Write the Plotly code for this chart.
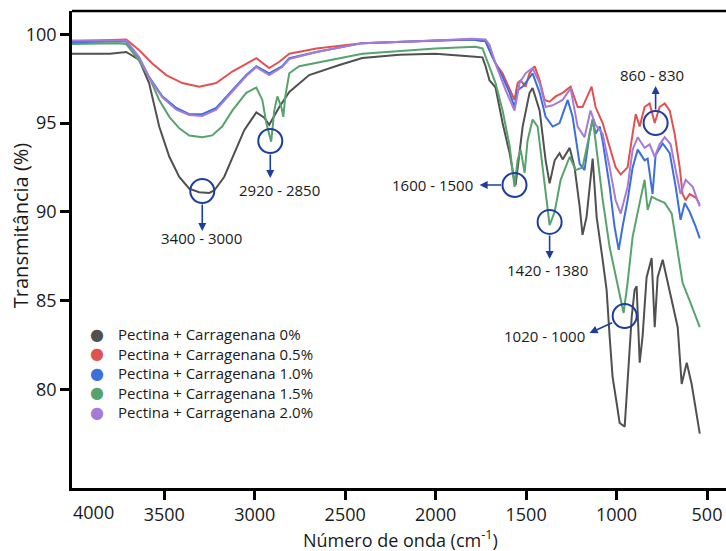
import plotly.graph_objects as go

# ---------------- data ----------------
series_names = [
    "Pectina + Carragenana 0%",
    "Pectina + Carragenana 0.5%",
    "Pectina + Carragenana 1.0%",
    "Pectina + Carragenana 1.5%",
    "Pectina + Carragenana 2.0%",
]

wn_0 = [4010, 3800, 3710, 3638, 3584, 3528, 3472, 3417, 3362, 3307, 3251, 3224, 3169, 3113,
        3058, 2991, 2947, 2920, 2864, 2809, 2699, 2532, 2405, 2200, 2001, 1800, 1741, 1724,
        1702, 1685, 1669, 1630, 1591, 1564, 1558, 1519, 1481, 1464, 1425, 1392, 1370, 1342,
        1315, 1298, 1259, 1232, 1204, 1188, 1166, 1132, 1110, 1077, 1055, 1038, 1022, 999,
        983, 955, 939, 916, 900, 889, 872, 856, 834, 806, 789, 773, 745, 717, 690, 662, 640,
        612, 585, 557, 540]
t_0 = [98.9, 98.9, 99.0, 98.55, 97.25, 94.8, 93.1, 91.96, 91.3, 91.1, 91.06, 91.2, 91.96, 93.3,
       94.6, 95.6, 95.3, 94.9, 95.9, 96.75, 97.7, 98.27, 98.66, 98.85, 98.9, 98.75, 98.7, 98.2,
       97.4, 97.2, 97.0, 95.0, 93.3, 91.7, 91.5, 94.8, 96.7, 96.97, 95.7, 92.9, 91.6, 92.9,
       93.3, 92.95, 93.6, 92.5, 90.3, 88.7, 89.7, 93.0, 89.7, 87.3, 85.6, 82.95, 80.7, 79.2,
       78.1, 77.9, 80.3, 84.1, 85.6, 85.8, 81.5, 83.0, 86.3, 87.4, 83.5, 86.3, 87.3, 86.0,
       84.85, 83.5, 80.3, 81.5, 80.3, 78.45, 77.5]

wn_05 = [4010, 3710, 3638, 3566, 3489, 3400, 3307, 3213, 3124, 2991, 2920, 2864, 2809, 2659,
         2405, 2001, 1800, 1724, 1702, 1669, 1630, 1591, 1564, 1547, 1530, 1503, 1481, 1453,
         1425, 1398, 1370, 1337, 1298, 1254, 1215, 1188, 1160, 1138, 1116, 1077, 1038, 1005,
         977, 939, 911, 894, 872, 845, 817, 789, 762, 734, 706, 679, 651, 635, 618, 596, 562, 540]
t_05 = [99.6, 99.7, 99.1, 98.35, 97.7, 97.25, 97.05, 97.25, 97.9, 98.65, 98.1, 98.45, 98.9, 99.2,
        99.5, 99.65, 99.7, 99.6, 99.1, 98.35, 97.8, 96.85, 96.3, 97.25, 97.4, 97.05, 97.8, 98.2,
        97.4, 96.3, 96.2, 96.5, 96.7, 97.05, 95.9, 95.9, 96.5, 97.05, 95.9, 95.0, 93.65, 92.5,
        92.1, 92.5, 94.4, 95.5, 94.8, 95.9, 96.1, 95.0, 95.9, 96.1, 95.7, 94.4, 92.5, 91.0,
        90.65, 91.0, 90.8, 90.4]

wn_10 = [4010, 3710, 3638, 3584, 3511, 3433, 3362, 3290, 3213, 3124, 3047, 2991, 2920, 2848,
         2809, 2659, 2405, 2001, 1800, 1724, 1685, 1630, 1591, 1564, 1547, 1519, 1492, 1464,
         1425, 1392, 1353, 1315, 1270, 1243, 1204, 1177, 1149, 1132, 1116, 1093, 1077, 1038,
         1011, 988, 966, 939, 911, 883, 845, 828, 801, 784, 745, 706, 673, 646, 623, 596, 562, 540]
t_10 = [99.55, 99.6, 98.65, 97.6, 96.5, 95.85, 95.5, 95.5, 95.85, 96.85, 97.7, 98.2, 97.8, 98.2,
        98.65, 99.0, 99.5, 99.65, 99.7, 99.6, 98.7, 97.6, 96.7, 95.9, 96.85, 97.05, 97.4, 97.8,
        96.7, 95.35, 94.8, 95.0, 96.3, 95.35, 92.7, 92.35, 94.4, 95.2, 94.4, 94.8, 94.0, 91.4,
        89.15, 87.85, 89.2, 90.65, 92.5, 93.5, 92.9, 93.0, 91.0, 93.2, 93.85, 93.3, 91.4, 89.55,
        90.5, 90.0, 89.15, 88.5]

wn_15 = [4010, 3760, 3710, 3638, 3584, 3528, 3472, 3417, 3362, 3290, 3235, 3180, 3124, 3047,
         2991, 2958, 2936, 2909, 2892, 2875, 2853, 2842, 2831, 2809, 2754, 2571, 2405, 2001,
         1780, 1741, 1702, 1669, 1630, 1591, 1564, 1547, 1530, 1508, 1492, 1464, 1436, 1409,
         1381, 1370, 1342, 1309, 1259, 1226, 1188, 1149, 1132, 1116, 1077, 1038, 999, 972, 961,
         939, 911, 872, 845, 828, 806, 778, 734, 695, 668, 635, 596, 540]
t_15 = [99.45, 99.5, 99.45, 98.5, 97.6, 96.3, 95.35, 94.7, 94.3, 94.2, 94.3, 94.8, 95.7, 96.7,
        97.0, 96.3, 95.0, 93.95, 95.7, 96.5, 95.9, 95.35, 96.5, 97.8, 98.2, 98.55, 98.9, 99.2,
        99.3, 99.2, 98.2, 97.25, 95.7, 93.7, 91.4, 92.9, 93.5, 92.2, 94.0, 95.2, 94.8, 92.5,
        89.9, 89.25, 90.0, 91.8, 93.1, 92.35, 92.5, 94.4, 95.2, 94.0, 90.7, 88.0, 86.2, 84.85,
        84.3, 86.0, 88.6, 90.5, 91.8, 90.1, 90.85, 90.7, 90.5, 89.9, 88.2, 86.0, 85.0, 83.5]

wn_20 = [4010, 3710, 3638, 3584, 3511, 3433, 3362, 3290, 3213, 3124, 3047, 2991, 2920, 2848,
         2809, 2659, 2405, 2001, 1800, 1724, 1702, 1669, 1613, 1564, 1536, 1503, 1464, 1425,
         1392, 1353, 1298, 1254, 1215, 1177, 1144, 1116, 1077, 1038, 1005, 977, 939, 911, 883,
         845, 817, 789, 762, 734, 701, 673, 646, 618, 579, 540]
t_20 = [99.65, 99.65, 98.7, 97.55, 96.45, 95.75, 95.45, 95.4, 95.75, 96.8, 97.65, 98.15, 97.7,
        98.15, 98.6, 99.0, 99.5, 99.65, 99.75, 99.7, 99.4, 98.35, 96.85, 95.7, 97.25, 97.8, 98.1,
        97.25, 95.9, 96.0, 96.3, 96.95, 94.8, 94.2, 95.7, 94.9, 94.4, 92.5, 90.65, 89.9, 91.4,
        93.5, 94.2, 93.6, 93.8, 93.1, 93.8, 94.2, 93.8, 92.35, 91.0, 91.8, 91.4, 90.3]

wavenumbers = [wn_0, wn_05, wn_10, wn_15, wn_20]
transmittance = [t_0, t_05, t_10, t_15, t_20]

x_tick_vals = [3500, 3000, 2500, 2000, 1500, 1000, 500]
y_tick_vals = [80, 85, 90, 95, 100]
first_x_label = "4000"

# band annotations: label text, circled point (wavenumber, T), arrow tip, label position
band_labels = ["3400 - 3000", "2920 - 2850", "1600 - 1500", "1420 - 1380", "1020 - 1000", "860 - 830"]
circle_wn = [3290, 2914, 1564, 1370, 955, 784]
circle_t = [91.17, 93.99, 91.51, 89.43, 84.13, 95.0]
arrow_wn = [3290, 2914, 1757, 1370, 1149, 784]
arrow_t = [88.92, 91.90, 91.51, 87.34, 83.17, 97.09]
arrow_dx = [0, 0, 23, 0, 24, 0]
arrow_dy = [-28, -25, 0, -25, -11, 25]
label_wn = [3296, 2864, 2017, 1381, 1398, 802]
label_t = [88.52, 91.23, 91.51, 86.72, 83.0, 97.71]

# ---------------- styles ----------------
colors = ["#505050", "#e05252", "#3b6fdd", "#58a36c", "#a67bd8"]
ann_color = "#1c3f9e"
text_color = "#1a1a1a"
font_family = "Open Sans"

fig = go.Figure()
for name, wn, tr, c in zip(series_names, wavenumbers, transmittance, colors):
    fig.add_trace(go.Scatter(x=wn, y=tr, mode="lines", name=name,
                             line=dict(color=c, width=2),
                             showlegend=False, hoverinfo="skip"))

shapes = [dict(type="line", xref="paper", yref="paper", x0=0, x1=1, y0=1, y1=1,
               line=dict(color="black", width=2.5))]
for cx, cy in zip(circle_wn, circle_t):
    shapes.append(dict(type="circle", xref="x", yref="y", xsizemode="pixel", ysizemode="pixel",
                       xanchor=cx, yanchor=cy, x0=-12, x1=12, y0=-12, y1=12,
                       line=dict(color=ann_color, width=2)))

annotations = []
for ax_, ay_, dx, dy in zip(arrow_wn, arrow_t, arrow_dx, arrow_dy):
    annotations.append(dict(x=ax_, y=ay_, xref="x", yref="y", text="", showarrow=True,
                            ax=dx, ay=dy, arrowhead=2, arrowsize=1, arrowwidth=1.6,
                            arrowcolor=ann_color))
for txt, lx, ly in zip(band_labels, label_wn, label_t):
    annotations.append(dict(x=lx, y=ly, xref="x", yref="y", text=txt, showarrow=False,
                            xanchor="center", yanchor="middle",
                            font=dict(family=font_family, size=15, color=text_color)))

# legend (drawn as text rows: coloured dot + label)
legend_x_dot = 0.038
legend_x_text = 0.067
legend_y_top = 0.3224
legend_row = 0.0409
for i, (name, c) in enumerate(zip(series_names, colors)):
    yy = legend_y_top - i * legend_row
    annotations.append(dict(x=legend_x_dot, y=yy, xref="paper", yref="paper", text="●",
                            showarrow=False, xanchor="center", yanchor="middle",
                            font=dict(family="DejaVu Sans", size=16, color=c)))
    annotations.append(dict(x=legend_x_text, y=yy, xref="paper", yref="paper", text=name,
                            showarrow=False, xanchor="left", yanchor="middle",
                            font=dict(family=font_family, size=15, color=text_color)))

annotations.append(dict(x=0.0329, y=-0.02, xref="paper", yref="paper", text=first_x_label,
                        showarrow=False, xanchor="center", yanchor="top",
                        font=dict(family=font_family, size=18, color=text_color)))
annotations.append(dict(x=0.503, y=-0.106, xref="paper", yref="paper",
                        text="Número de onda (cm<sup>-1</sup>)", showarrow=False,
                        xanchor="center", yanchor="middle",
                        font=dict(family=font_family, size=18, color=text_color)))
annotations.append(dict(x=-0.0795, y=0.551, xref="paper", yref="paper",
                        text="Transmitância (%)", showarrow=False, textangle=-90,
                        xanchor="center", yanchor="middle",
                        font=dict(family=font_family, size=20, color=text_color)))

axis_common = dict(showline=True, linecolor="black", linewidth=2.5, ticks="outside",
                   ticklen=9, tickwidth=2.5, tickcolor="black", showgrid=False,
                   zeroline=False, tickfont=dict(family=font_family, size=18, color=text_color))

fig.update_layout(
    width=726, height=551,
    margin=dict(l=72, r=0, t=11, b=63),
    paper_bgcolor="white", plot_bgcolor="white",
    xaxis=dict(range=[4010, 395], tickvals=x_tick_vals, **axis_common),
    yaxis=dict(range=[74.44, 101.31], tickvals=y_tick_vals, **axis_common),
    shapes=shapes,
    annotations=annotations,
    showlegend=False,
)

fig.write_html("out.html", config={"displayModeBar": False},
               post_script="document.body.style.margin='0';document.body.style.overflow='hidden';")
